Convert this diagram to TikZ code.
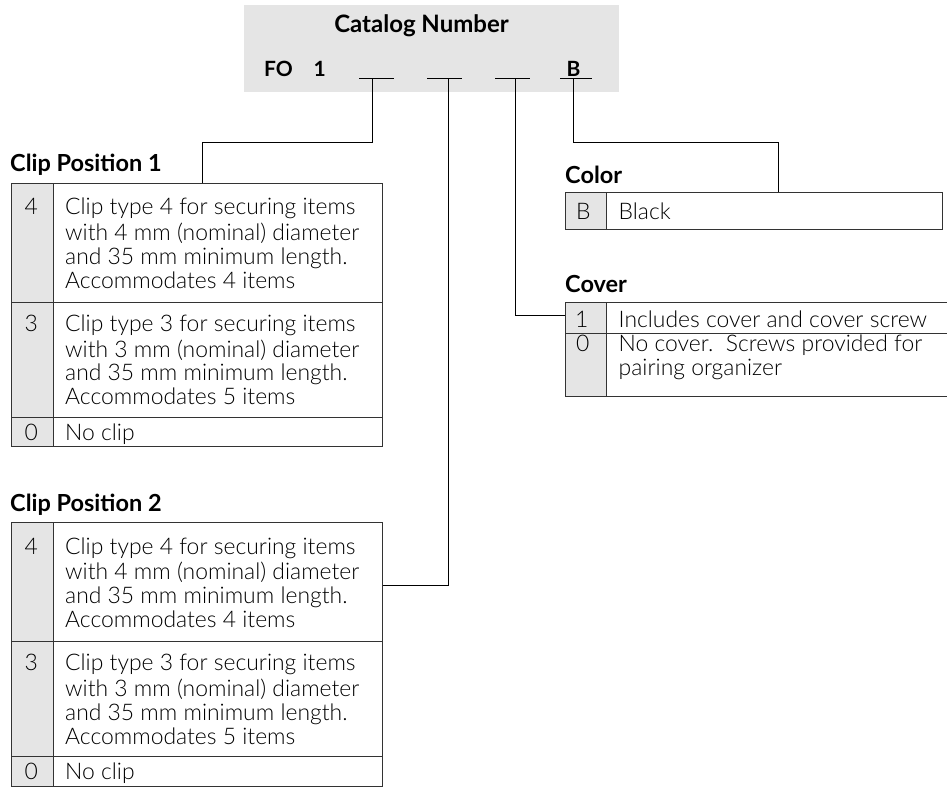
\documentclass[tikz,border=0pt]{standalone}
\usepackage{fontspec}
\setmainfont{Lato}
\newfontfamily\lightface{Lato Light}
\usetikzlibrary{calc}

\definecolor{panelgray}{HTML}{E5E5E5}
\definecolor{rulegray}{HTML}{333333}

\newcommand\bodysize{\lightface\fontsize{22.9}{23.8}\selectfont}
\newcommand\headsize{\fontsize{23.5}{26}\selectfont\bfseries}
\newcommand\titlesize{\fontsize{24}{26}\selectfont\bfseries}
\newcommand\codesize{\fontsize{21}{24}\selectfont\bfseries}

\tikzset{
  panel/.style={draw=rulegray, line width=1pt, inner sep=0pt, outer sep=0pt, anchor=north west},
  shadecol/.style={fill=panelgray},
  rowrule/.style={draw=rulegray, line width=1pt},
  wire/.style={draw=black, line width=1pt},
  blank/.style={draw=black, line width=1.3pt},
  slot/.style={inner sep=0pt, outer sep=0pt, minimum height=0pt, minimum width=34.7pt},
  heading/.style={anchor=base west, inner sep=0pt, font=\headsize},
  code/.style={anchor=base west, inner sep=0pt, font=\bodysize},
  desc/.style={anchor=north west, inner sep=0pt, align=left, font=\bodysize},
}

\begin{document}
\begin{tikzpicture}[x=1pt, y=-1pt]
\useasboundingbox (0,0) rectangle (947,787);

% ---------- catalog number panel ----------
\fill[panelgray] (244,5) rectangle (619.3,91.7);
\node[anchor=base, inner sep=0pt, font=\titlesize] (title) at (421.5,32) {Catalog Number};
\node[anchor=base west, inner sep=0pt, font=\codesize] (fo) at (264,76.5) {FO};
\node[anchor=base west, inner sep=0pt, font=\codesize] (one) at (313.5,76.5) {1};
\node[anchor=base west, inner sep=0pt, font=\codesize] (bee) at (566.5,76.5) {B};

\node[slot] (s1) at (376.65,78.3) {};
\node[slot] (s2) at (444.65,78.3) {};
\node[slot] (s3) at (512.5,78.3) {};
\node[slot, minimum width=31.7pt] (s4) at (575.85,78.3) {};
\foreach \s in {s1,s2,s3,s4}
  \draw[blank] (\s.west) -- (\s.east);

\coordinate (t1) at (372.7,78.3);
\coordinate (t2) at (448.3,78.3);
\coordinate (t3) at (515,78.3);
\coordinate (t4) at (573.8,78.3);

% ---------- Clip Position 1 ----------
\node[heading] (h1) at (10,171.7) {Clip Position 1};
\fill[shadecol] (11.7,183.3) rectangle (53.3,446.7);
\draw[rowrule] (53.3,183.3) -- (53.3,446.7);
\draw[rowrule] (11.7,302.3) -- (382.7,302.3);
\draw[rowrule] (11.7,417.5) -- (382.7,417.5);
\node[panel, minimum width=371pt, minimum height=263.4pt] (cp1) at (11.7,183.3) {};
\node[code] (a4) at (24.5,214.7) {4};
\node[desc] (a4t) at (65,198.04) {\strut Clip type 4 for securing items\\with 4 mm (nominal) diameter\\and 35 mm minimum length.\\Accommodates 4 items};
\node[code] (a3) at (24.5,331.2) {3};
\node[desc] (a3t) at (65,314.54) {\strut Clip type 3 for securing items\\with 3 mm (nominal) diameter\\and 35 mm minimum length.\\Accommodates 5 items};
\node[code] (a0) at (24.5,440) {0};
\node[code] (a0t) at (65,440) {No clip};

% ---------- Clip Position 2 ----------
\node[heading] (h2) at (10,511.1) {Clip Position 2};
\fill[shadecol] (11.7,522.7) rectangle (53.3,786.1);
\draw[rowrule] (53.3,522.7) -- (53.3,786.1);
\draw[rowrule] (11.7,641.7) -- (382.7,641.7);
\draw[rowrule] (11.7,756.9) -- (382.7,756.9);
\node[panel, minimum width=371pt, minimum height=263.4pt] (cp2) at (11.7,522.7) {};
\node[code] (b4) at (24.5,554.1) {4};
\node[desc] (b4t) at (65,537.44) {\strut Clip type 4 for securing items\\with 4 mm (nominal) diameter\\and 35 mm minimum length.\\Accommodates 4 items};
\node[code] (b3) at (24.5,670.6) {3};
\node[desc] (b3t) at (65,653.94) {\strut Clip type 3 for securing items\\with 3 mm (nominal) diameter\\and 35 mm minimum length.\\Accommodates 5 items};
\node[code] (b0) at (24.5,779.2) {0};
\node[code] (b0t) at (65,779.2) {No clip};

% ---------- Color ----------
\node[heading] (h3) at (565,183) {Color};
\fill[shadecol] (565,192.3) rectangle (606.7,229);
\draw[rowrule] (606.7,192.3) -- (606.7,229);
\node[panel, minimum width=377.7pt, minimum height=36.7pt] (color) at (565,192.3) {};
\node[code] (cb) at (576,219.3) {B};
\node[code] (cbt) at (618.5,219.3) {Black};

% ---------- Cover ----------
\node[heading] (h4) at (565,292) {Cover};
\fill[shadecol] (565,302.7) rectangle (606.7,396);
\draw[rowrule] (606.7,302.7) -- (606.7,396);
\draw[rowrule] (565,333.3) -- (950,333.3);
\node[panel, minimum width=385pt, minimum height=93.3pt] (cover) at (565,302.7) {};
\node[code] (c1) at (575,327.7) {1};
\node[code] (c1t) at (618.5,327.7) {Includes cover and cover screw};
\node[code] (c0) at (576,351.7) {0};
\node[desc] (c0t) at (618.5,335.04) {\strut No cover.\ \ Screws provided for\\pairing organizer};

% ---------- connectors ----------
\coordinate (j1) at (202.7,142.7);
\coordinate (j2) at (382.7,585.5);
\coordinate (j3) at (565,315);
\coordinate (j4) at (778.3,142.7);
\draw[wire] (t1) |- (j1) -- (j1 |- cp1.north);
\draw[wire] (t2) |- (j2);
\draw[wire] (t3) |- (j3);
\draw[wire] (t4) |- (j4) -- (j4 |- color.north);
\end{tikzpicture}
\end{document}
